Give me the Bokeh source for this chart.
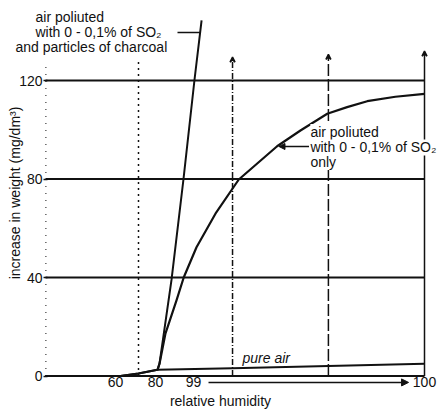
import numpy as np
from bokeh.plotting import figure
from bokeh.models import Label, Arrow, NormalHead, VeeHead, FixedTicker, Range1d
from bokeh.embed import file_html
from bokeh.resources import INLINE

# ---------------- data ----------------
humidity_ticks = [60, 80, 99, 100]
humidity_tick_labels = ["60", "80", "99", "100"]
weight_ticks = [0, 40, 80, 120]

# air polluted with SO2 and particles of charcoal
charcoal_rh = [25, 62.5, 71.5, 81, 82, 88, 94, 99.004, 99.035]
charcoal_wt = [0, 0, 1.0, 2.5, 5, 39, 80, 120, 144.4]

# air polluted with SO2 only
so2_rh = [81, 82, 85, 90.5, 94.15, 99.013, 99.095, 99.196, 99.362, 99.463, 99.579,
          99.665, 99.752, 99.874, 100]
so2_wt = [2.5, 5, 17.3, 30.7, 40.1, 52.3, 65.9, 79.8, 93.3, 99.7, 106.5,
          109.2, 111.6, 113.4, 114.6]

# pure air
pure_rh = [25, 62.5, 71.5, 81, 99.169, 99.584, 100]
pure_wt = [0, 0, 1.0, 2.5, 3.2, 4.1, 5.0]

# vertical reference lines
marker_rh = [71.5, 99.169, 99.584, 100]
marker_top = [128, 129.5, 130.6, 131.9]
marker_dash = ["2 4", "6 2 1 2", "12 3", "solid"]
marker_head = [False, True, True, True]


def pos(h):
    """Broken humidity axis: the range 99..100 is stretched."""
    h = np.asarray(h, dtype=float)
    return np.where(h <= 99, h, 99 + (h - 99) * 115.5)


FONT = "Liberation Sans"
INK = "#111111"

p = figure(width=440, height=412, output_backend="svg", toolbar_location=None,
           x_range=Range1d(2.5, 222.5), y_range=Range1d(-14.82, 152.49),
           min_border=0)
p.background_fill_color = "white"
p.border_fill_color = "white"
p.outline_line_color = None
p.xgrid.visible = False
p.ygrid.visible = False

x_left, x_right = float(pos(25)), float(pos(100))

# x axis (drawn at weight 0)
tick_pos = [float(v) for v in pos(humidity_ticks)]
xa = p.xaxis[0]
xa.fixed_location = 0
xa.bounds = (10.5, x_right)
xa.ticker = FixedTicker(ticks=tick_pos)
xa.major_label_overrides = {t: l for t, l in zip(tick_pos, humidity_tick_labels)}
xa.axis_label = "relative humidity"
xa.axis_line_color = None
xa.major_tick_out = 0
xa.major_tick_in = 0
xa.major_tick_line_color = None
xa.minor_tick_line_color = None
xa.major_label_standoff = 1
xa.axis_label_standoff = 2
xa.major_label_text_font = FONT
xa.major_label_text_font_size = "14px"
xa.major_label_text_color = INK
xa.axis_label_text_font = FONT
xa.axis_label_text_font_size = "14px"
xa.axis_label_text_font_style = "normal"
xa.axis_label_text_color = INK

# y axis (drawn at the left edge of the diagram)
ya = p.yaxis[0]
ya.fixed_location = x_left
ya.bounds = (0, 149)
ya.ticker = FixedTicker(ticks=weight_ticks)
ya.axis_label = "increase in weight (mg/dm³)"
ya.axis_line_color = None
ya.major_tick_out = 2
ya.major_tick_in = 2
ya.major_tick_line_width = 1.5
ya.major_tick_line_color = INK
ya.minor_tick_line_color = None
ya.major_label_standoff = 1
ya.axis_label_standoff = -7
ya.major_label_text_font = FONT
ya.major_label_text_font_size = "14px"
ya.major_label_text_color = INK
ya.axis_label_text_font = FONT
ya.axis_label_text_font_size = "14px"
ya.axis_label_text_font_style = "normal"
ya.axis_label_text_color = INK

# horizontal rules at the weight ticks
p.segment(x0=[x_left] * len(weight_ticks), y0=weight_ticks,
          x1=[x_right] * len(weight_ticks), y1=weight_ticks,
          line_color=INK, line_width=2)

# dotted left edge
p.segment(x0=[float(pos(25.2))], y0=[0], x1=[float(pos(25.2))], y1=[127],
          line_color=INK, line_width=1, line_dash="1 6")

# vertical reference lines with small heads
for h, top, dash, head in zip(marker_rh, marker_top, marker_dash, marker_head):
    x = float(pos(h))
    p.add_layout(Arrow(x_start=x, y_start=0, x_end=x, y_end=top,
                       line_color=INK, line_width=1.5, line_dash=dash,
                       end=VeeHead(size=5, line_color=INK, line_width=1.5) if head else None))

# curves
p.line(pos(pure_rh), pure_wt, line_color=INK, line_width=2)
p.line(pos(so2_rh), so2_wt, line_color=INK, line_width=2.2, line_join="round")
p.line(pos(charcoal_rh), charcoal_wt, line_color=INK, line_width=2, line_join="round")


def label(x, y, text, style="normal", bg=None):
    p.add_layout(Label(x=float(x), y=y, text=text, text_font=FONT,
                       text_font_size="14px", text_color=INK,
                       text_baseline="middle", text_align="left",
                       text_font_style=style,
                       background_fill_color=bg, border_line_color=None))


# label: charcoal curve
label(20, 145.6, "air poliuted")
label(20, 139.5, "with 0 - 0,1% of SO₂")
label(10, 133.8, "and particles of charcoal")
p.segment(x0=[float(pos(91))], y0=[139.5], x1=[float(pos(99.03))], y1=[139.5],
          line_color=INK, line_width=1.5)

# label: SO2-only curve
lx = pos(99.506)
label(lx, 99.1, "air poliuted", bg="white")
label(lx, 92.8, "with 0 - 0,1% of SO₂", bg="white")
label(lx, 86.9, "only", bg="white")
p.add_layout(Arrow(x_start=float(pos(99.50)), y_start=93.2,
                   x_end=float(pos(99.37)), y_end=93.2,
                   line_color=INK, line_width=1.5,
                   end=NormalHead(size=6, fill_color=INK, line_color=INK)))

# pure air label
label(pos(99.212), 7.5, "pure air", style="italic")

# arrow under the axis from 99 to 100
p.add_layout(Arrow(x_start=float(pos(99.065)), y_start=-2.6,
                   x_end=float(pos(99.931)), y_end=-2.6,
                   line_color=INK, line_width=1.5,
                   end=NormalHead(size=7, fill_color=INK, line_color=INK)))

open("out.html", "w").write(file_html(p, INLINE))
